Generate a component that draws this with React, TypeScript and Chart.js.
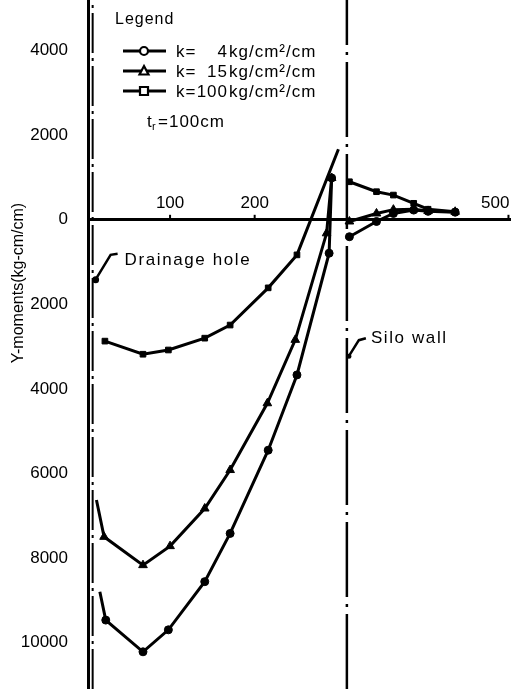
import React, { useEffect, useRef } from "react";
import { Chart, registerables } from "chart.js";

Chart.register(...registerables);

// Distance along the floor slab (cm) and Y-moments (kg-cm/cm).
// "INNER" runs from the drainage hole to the silo wall, "OUTER" continues past the wall.
const K4_INNER_X = [17, 24, 68, 98, 141, 171, 216, 250, 288, 291];
const K4_INNER_Y = [-8800, -9470, -10220, -9700, -8560, -7420, -5450, -3670, -790, 990];
const K4_OUTER_X = [312, 344, 364, 388, 405, 437];
const K4_OUTER_Y = [-400, -40, 150, 230, 200, 180];

const K15_INNER_X = [13, 22, 68, 100, 141, 171, 215, 248, 285, 291];
const K15_INNER_Y = [-6630, -7500, -8170, -7720, -6830, -5920, -4340, -2840, -320, 990];
const K15_OUTER_X = [312, 344, 364, 388, 405, 437];
const K15_OUTER_Y = [-40, 150, 240, 250, 210, 190];

const K100_INNER_X = [23, 68, 98, 141, 171, 216, 250, 299];
const K100_INNER_Y = [-2870, -3180, -3080, -2800, -2490, -1610, -830, 1670];
const K100_OUTER_X = [312, 344, 364, 388, 405, 437];
const K100_OUTER_Y = [900, 665, 585, 390, 250, 190];

const SERIES_LABELS = ["4", "15", "100"];
const UNIT_TEXT = "kg/cm²/cm";

const X_TICKS = [100, 200, 500];
const Y_TICKS = [-10000, -8000, -6000, -4000, -2000, 0, 2000, 4000];

const X_MIN = 3;
const X_MAX = 503;
const Y_MIN = -11100;
const Y_MAX = 5200;

const SILO_WALL_X = 309;
const HOLE_EDGE_X = 8.5;
const DRAIN_HOLE = { x: 12, y: -1420 };
const SILO_LABEL_Y = -3250;

const FONT = "'Liberation Sans', Arial, Helvetica, sans-serif";

type Pt = { x: number; y: number | null };

function joinSegments(ix: number[], iy: number[], ox: number[], oy: number[]): Pt[] {
  const inner = ix.map((x, i) => ({ x, y: iy[i] }));
  const outer = ox.map((x, i) => ({ x, y: oy[i] }));
  return [...inner, { x: SILO_WALL_X, y: null }, ...outer];
}

function seriesDataset(
  label: string,
  data: Pt[],
  style: string,
  radius: number,
  unmarked: number[]
) {
  return {
    label,
    data,
    borderColor: "#000",
    borderWidth: 3,
    backgroundColor: "#000",
    pointStyle: style,
    pointBackgroundColor: "#000",
    pointBorderColor: "#000",
    pointBorderWidth: 1,
    pointRadius: (c: any) => (unmarked.includes(c.dataIndex) ? 0 : radius),
    tension: 0,
    spanGaps: false,
  };
}

function verticalLine(xv: number, dash: number[], width: number) {
  return {
    label: "",
    data: [
      { x: xv, y: Y_MIN },
      { x: xv, y: Y_MAX },
    ],
    borderColor: "#000",
    borderWidth: width,
    borderDash: dash,
    pointRadius: 0,
    tension: 0,
  };
}

function drawMarker(ctx: CanvasRenderingContext2D, style: string, cx: number, cy: number) {
  ctx.beginPath();
  if (style === "circle") {
    ctx.arc(cx, cy, 4, 0, Math.PI * 2);
  } else if (style === "triangle") {
    ctx.moveTo(cx, cy - 5);
    ctx.lineTo(cx + 4.5, cy + 3.5);
    ctx.lineTo(cx - 4.5, cy + 3.5);
    ctx.closePath();
  } else {
    ctx.rect(cx - 4, cy - 4, 8, 8);
  }
  ctx.fillStyle = "#fff";
  ctx.fill();
  ctx.lineWidth = 2.2;
  ctx.strokeStyle = "#000";
  ctx.stroke();
}

const overlayPlugin = {
  id: "overlay",
  afterDraw(chart: any) {
    const ctx: CanvasRenderingContext2D = chart.ctx;
    const xs = chart.scales.x;
    const ys = chart.scales.y;
    ctx.save();
    ctx.fillStyle = "#000";
    ctx.strokeStyle = "#000";

    // x tick marks and labels, written above the zero line
    const y0 = ys.getPixelForValue(0);
    ctx.font = `17px ${FONT}`;
    ctx.textBaseline = "alphabetic";
    ctx.lineWidth = 2;
    X_TICKS.forEach((v, i) => {
      const px = xs.getPixelForValue(v);
      ctx.beginPath();
      ctx.moveTo(px, y0);
      ctx.lineTo(px, y0 - 5);
      ctx.stroke();
      const last = i === X_TICKS.length - 1;
      ctx.textAlign = last ? "right" : "center";
      ctx.fillText(String(v), last ? px + 1 : px, y0 - 12);
    });

    // y axis title
    ctx.save();
    ctx.translate(19, 283);
    ctx.rotate(-Math.PI / 2);
    ctx.textAlign = "center";
    ctx.textBaseline = "middle";
    ctx.font = `16px ${FONT}`;
    ctx.fillText("Y-moments(kg-cm/cm)", 0, 0);
    ctx.restore();

    // legend block
    ctx.textAlign = "left";
    ctx.textBaseline = "alphabetic";
    (ctx as any).letterSpacing = "1px";
    ctx.font = `16px ${FONT}`;
    ctx.fillText("Legend", 115, 24);
    const styles = ["circle", "triangle", "rect"];
    const rows = [51, 71, 91];
    ctx.font = `17px ${FONT}`;
    rows.forEach((ry, i) => {
      ctx.lineWidth = 3;
      ctx.beginPath();
      ctx.moveTo(123, ry);
      ctx.lineTo(166, ry);
      ctx.stroke();
      drawMarker(ctx, styles[i], 144, ry);
      ctx.fillStyle = "#000";
      ctx.textAlign = "left";
      ctx.fillText("k=", 176, ry + 6);
      ctx.textAlign = "right";
      ctx.fillText(SERIES_LABELS[i], 228, ry + 6);
      ctx.textAlign = "left";
      ctx.fillText(UNIT_TEXT, 229, ry + 6);
    });
    ctx.fillText("t", 147, 127);
    ctx.font = `11px ${FONT}`;
    ctx.fillText("r", 152, 130);
    ctx.font = `17px ${FONT}`;
    ctx.fillText("=100cm", 158, 127);

    // drainage hole note
    const ax = xs.getPixelForValue(DRAIN_HOLE.x);
    const ay = ys.getPixelForValue(DRAIN_HOLE.y);
    ctx.beginPath();
    ctx.arc(ax, ay, 3.5, 0, Math.PI * 2);
    ctx.fill();
    ctx.lineWidth = 2.5;
    ctx.beginPath();
    ctx.moveTo(ax + 1, ay - 2);
    ctx.lineTo(ax + 15, ay - 25);
    ctx.lineTo(ax + 22, ay - 26);
    ctx.stroke();
    (ctx as any).letterSpacing = "1.6px";
    ctx.font = `17px ${FONT}`;
    ctx.fillText("Drainage hole", ax + 29, ay - 15);

    // silo wall note
    const sx = xs.getPixelForValue(SILO_WALL_X);
    const sy = ys.getPixelForValue(SILO_LABEL_Y);
    ctx.beginPath();
    ctx.moveTo(sx + 2, sy - 1);
    ctx.lineTo(sx + 12, sy - 17);
    ctx.lineTo(sx + 19, sy - 19);
    ctx.stroke();
    ctx.beginPath();
    ctx.arc(sx + 2, sy - 1, 2.5, 0, Math.PI * 2);
    ctx.fill();
    ctx.fillText("Silo wall", sx + 24, sy - 14);
    (ctx as any).letterSpacing = "0px";
    ctx.restore();
  },
};

export default function App() {
  const canvasRef = useRef<HTMLCanvasElement>(null);

  useEffect(() => {
    document.body.style.margin = "0";
    const canvas = canvasRef.current;
    if (!canvas) return;

    const chart = new Chart(canvas, {
      type: "line",
      data: {
        datasets: [
          seriesDataset(
            "k=4kg/cm²/cm",
            joinSegments(K4_INNER_X, K4_INNER_Y, K4_OUTER_X, K4_OUTER_Y),
            "circle",
            4,
            [0]
          ),
          seriesDataset(
            "k=15kg/cm²/cm",
            joinSegments(K15_INNER_X, K15_INNER_Y, K15_OUTER_X, K15_OUTER_Y),
            "triangle",
            5,
            [0]
          ),
          seriesDataset(
            "k=100kg/cm²/cm",
            joinSegments(K100_INNER_X, K100_INNER_Y, K100_OUTER_X, K100_OUTER_Y),
            "rect",
            4,
            [K100_INNER_X.length - 1]
          ),
          verticalLine(SILO_WALL_X, [75, 7, 3, 7], 2.5),
          verticalLine(HOLE_EDGE_X, [40, 5, 3, 5], 2),
        ] as any,
      },
      options: {
        responsive: false,
        animation: false,
        devicePixelRatio: 1,
        layout: { padding: 0, autoPadding: false },
        plugins: {
          legend: { display: false },
          tooltip: { enabled: false },
        },
        scales: {
          x: {
            type: "linear",
            min: X_MIN,
            max: X_MAX,
            position: { y: 0 } as any,
            grid: { display: false },
            border: { display: true, color: "#000", width: 3 },
            ticks: { display: false },
            afterBuildTicks: (s: any) => {
              s.ticks = X_TICKS.map((value) => ({ value }));
            },
            afterFit: (s: any) => {
              s.height = 0;
              s.paddingLeft = 0;
              s.paddingRight = 0;
              s.paddingTop = 0;
              s.paddingBottom = 0;
            },
          },
          y: {
            type: "linear",
            position: "left",
            min: Y_MIN,
            max: Y_MAX,
            grid: { display: false },
            border: { display: true, color: "#000", width: 3 },
            ticks: {
              color: "#000",
              padding: 12,
              autoSkip: false,
              font: { family: FONT, size: 17 },
              callback: (v: any) => String(Math.abs(Number(v))),
            },
            afterBuildTicks: (s: any) => {
              s.ticks = Y_TICKS.map((value) => ({ value }));
            },
            afterFit: (s: any) => {
              s.width = 88;
              s.paddingLeft = 0;
              s.paddingRight = 0;
              s.paddingTop = 0;
              s.paddingBottom = 0;
            },
          },
        },
      },
      plugins: [overlayPlugin],
    });

    return () => chart.destroy();
  }, []);

  return (
    <div style={{ position: "absolute", left: 0, top: 0, width: 511, height: 689, background: "#fff" }}>
      <canvas ref={canvasRef} width={511} height={689} style={{ display: "block" }} />
    </div>
  );
}
